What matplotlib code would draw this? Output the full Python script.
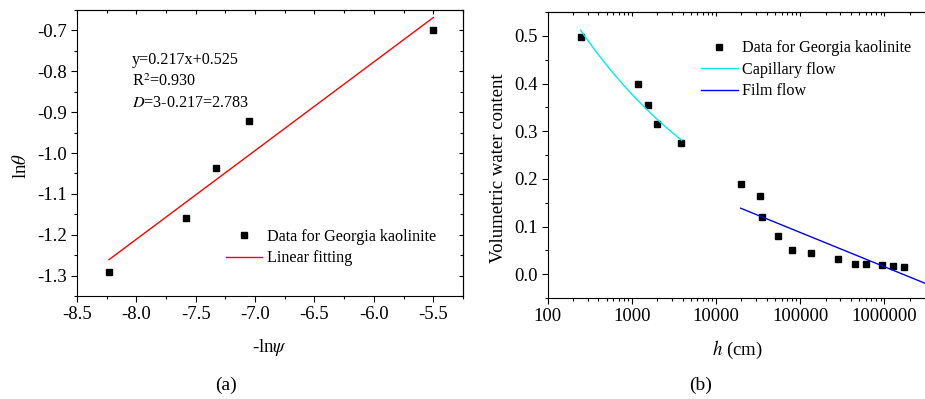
import numpy as np
import matplotlib
matplotlib.use("Agg")
import matplotlib.pyplot as plt
from matplotlib.ticker import MultipleLocator, LogLocator, FuncFormatter, NullFormatter

plt.rcParams["font.family"] = ["Liberation Serif", "DejaVu Serif"]
plt.rcParams["mathtext.fontset"] = "stix"
plt.rcParams["axes.unicode_minus"] = False

# (a) ln(theta) against -ln(psi)
neg_ln_psi = [-8.23, -7.58, -7.33, -7.05, -5.50]
ln_theta = [-1.290, -1.158, -1.036, -0.922, -0.698]
fit_slope = 0.217
fit_intercept = 0.525
fit_r2 = 0.930

# (b) volumetric water content against suction head h (cm)
h_cm = [246, 1172, 1541, 1968, 3830, 19600, 33500, 35100, 54000, 80400,
        133000, 283000, 447000, 608000, 927000, 1270000, 1710000]
water_content = [0.497, 0.398, 0.355, 0.315, 0.275, 0.190, 0.165, 0.120, 0.081,
                 0.050, 0.044, 0.031, 0.021, 0.021, 0.020, 0.017, 0.015]
capillary_range = (246, 3900)
film_range = (19600, 3.2e6)
film_a = 0.447      # theta = film_a - film_b * log10(h)
film_b = 0.0719

fig = plt.figure(figsize=(9.25, 3.99), dpi=100)
ax1 = fig.add_axes([0.0832, 0.2581, 0.4173, 0.7168])
ax2 = fig.add_axes([0.5921, 0.2531, 0.4100, 0.7168])

tick_fs = 13.5
label_fs = 13.5
leg_fs = 11.6


def style_axes(ax):
    for s in ax.spines.values():
        s.set_linewidth(0.8)
    ax.tick_params(which="both", direction="out", top=False, right=False,
                   labelsize=tick_fs, width=0.8)
    ax.tick_params(which="major", length=4)
    ax.tick_params(which="minor", length=2.5)


# ---- panel (a)
style_axes(ax1)
ax1.plot(neg_ln_psi, ln_theta, "s", color="black", ms=5, label="Data for Georgia kaolinite")
xf = np.array([neg_ln_psi[0], neg_ln_psi[-1]])
ax1.plot(xf, fit_slope * xf + fit_intercept, color="red", lw=1.0, label="Linear fitting")
ax1.set_xlim(-8.5, -5.25)
ax1.set_ylim(-1.35, -0.65)
ax1.xaxis.set_major_locator(MultipleLocator(0.5))
ax1.xaxis.set_minor_locator(MultipleLocator(0.25))
ax1.yaxis.set_major_locator(MultipleLocator(0.1))
ax1.yaxis.set_minor_locator(MultipleLocator(0.05))
ax1.xaxis.set_major_formatter(FuncFormatter(lambda v, p: f"{v:.1f}"))
ax1.yaxis.set_major_formatter(FuncFormatter(lambda v, p: f"{v:.1f}"))
ax1.set_xlabel(r"-ln$\psi$", fontsize=label_fs, labelpad=10)
ax1.set_ylabel(r"ln$\theta$", fontsize=label_fs, labelpad=5)
ax1.yaxis.label.set_y(0.455)

top1 = ax1.secondary_xaxis("top")
top1.xaxis.set_major_locator(MultipleLocator(0.5))
top1.xaxis.set_minor_locator(MultipleLocator(0.25))
top1.tick_params(which="both", direction="in", labeltop=False, width=0.8)
top1.tick_params(which="major", length=3)
top1.tick_params(which="minor", length=2)
right1 = ax1.secondary_yaxis("right")
right1.yaxis.set_major_locator(MultipleLocator(0.1))
right1.yaxis.set_minor_locator(MultipleLocator(0.05))
right1.tick_params(which="both", direction="in", labelright=False, width=0.8)
right1.tick_params(which="major", length=3)
right1.tick_params(which="minor", length=2)

ax1.text(0.142, 0.825, f"y={fit_slope:.3f}x+{fit_intercept:.3f}", transform=ax1.transAxes,
         fontsize=leg_fs, va="center")
ax1.text(0.142, 0.749, f"R$^2$={fit_r2:.3f}", transform=ax1.transAxes,
         fontsize=leg_fs, va="center")
ax1.text(0.142, 0.676, f"$D$=3-{fit_slope:.3f}={3 - fit_slope:.3f}",
         transform=ax1.transAxes, fontsize=leg_fs, va="center")
ax1.legend(loc="upper left", bbox_to_anchor=(0.369, 0.258), frameon=False,
           fontsize=leg_fs, handlelength=2.25, handletextpad=0.3,
           labelspacing=0.35, borderaxespad=0)

# ---- panel (b)
style_axes(ax2)
ax2.set_xscale("log")
ax2.plot(h_cm, water_content, "s", color="black", ms=5, label="Data for Georgia kaolinite")
hc = np.geomspace(*capillary_range, 100)
ax2.plot(hc, np.exp(fit_intercept) * hc ** (-fit_slope), color="#00EEEE", lw=1.0,
         label="Capillary flow")
hf = np.geomspace(*film_range, 100)
ax2.plot(hf, film_a - film_b * np.log10(hf), color="#0000F0", lw=1.0, label="Film flow")
ax2.set_xlim(100, 3.2e6)
ax2.set_ylim(-0.05, 0.55)
ax2.xaxis.set_major_locator(LogLocator(base=10, numticks=10))
ax2.xaxis.set_minor_locator(LogLocator(base=10, subs=np.arange(2, 10), numticks=10))
ax2.xaxis.set_major_formatter(FuncFormatter(lambda v, p: f"{v:.0f}"))
ax2.xaxis.set_minor_formatter(NullFormatter())
ax2.yaxis.set_major_locator(MultipleLocator(0.1))
ax2.yaxis.set_minor_locator(MultipleLocator(0.05))
ax2.yaxis.set_major_formatter(FuncFormatter(lambda v, p: f"{v:.1f}"))
ax2.set_xlabel(r"$h$ (cm)", fontsize=label_fs, labelpad=10)
ax2.set_ylabel("Volumetric water content", fontsize=label_fs, labelpad=5)
ax2.yaxis.label.set_y(0.455)

top2 = ax2.secondary_xaxis("top")
top2.xaxis.set_major_locator(LogLocator(base=10, numticks=10))
top2.xaxis.set_minor_locator(LogLocator(base=10, subs=np.arange(2, 10), numticks=10))
top2.tick_params(which="both", direction="in", labeltop=False, width=0.8)
top2.tick_params(which="major", length=3)
top2.tick_params(which="minor", length=2)

ax2.legend(loc="upper left", bbox_to_anchor=(0.388, 0.924), frameon=False,
           fontsize=leg_fs, handlelength=2.25, handletextpad=0.3,
           labelspacing=0.35, borderaxespad=0)

fig.text(226 / 925, 1 - 385 / 399, "(a)", fontsize=14, ha="center", va="center")
fig.text(701 / 925, 1 - 385 / 399, "(b)", fontsize=14, ha="center", va="center")

fig.savefig("out.png", dpi=100)
